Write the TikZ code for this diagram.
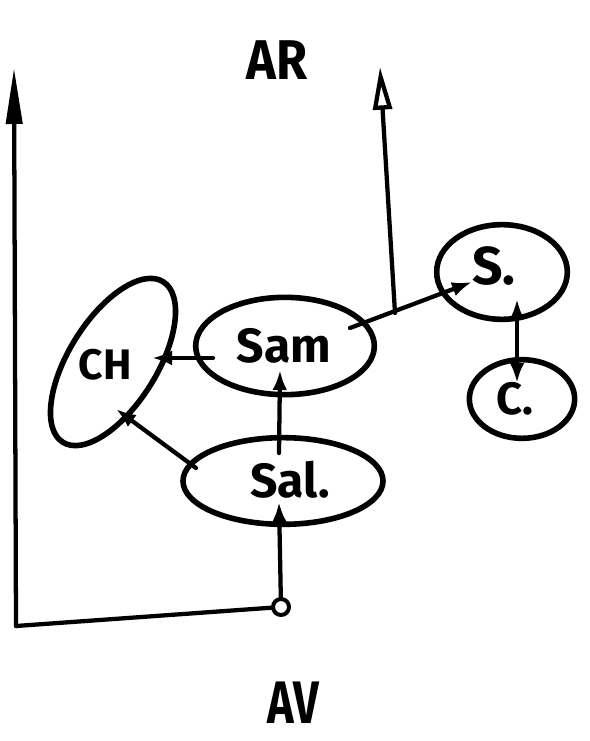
\documentclass[tikz,border=0pt]{standalone}
\usepackage{fontspec}
\setmainfont{Fira Sans}
\usetikzlibrary{shapes.geometric,arrows.meta}
\tikzset{
  blob/.style={draw, ellipse, line width=4.2pt, inner sep=0pt},
  lbl/.style={font=\bfseries\fontsize{#1}{#1}\selectfont, inner sep=0pt},
  link/.style={line width=3.2pt},
  arr/.style={link, -{Latex[length=15pt,width=11pt]}},
  darr/.style={link, {Latex[length=15pt,width=11pt]}-{Latex[length=15pt,width=11pt]}},
  axisL/.style={link, -{Triangle[length=42pt,width=12pt]}},
  axisR/.style={link, -{Triangle[open,length=32pt,width=14pt]}},
}
\begin{document}
\begin{tikzpicture}[x=0.75pt,y=-0.75pt,line cap=round,line join=round]
\useasboundingbox (0,0) rectangle (589,741);
% labels
\node[lbl=42] (AR) at (277,60) {\scalebox{0.9}[1]{AR}};
\node[lbl=45] (AV) at (293,703) {\scalebox{0.75}[1]{AV}};
% ellipses
\node[blob, minimum width=150pt, minimum height=65pt] (Sal) at (283,481) {};
\node[lbl=36] (SalT) at (290,480) {Sal.};
\node[blob, minimum width=134pt, minimum height=73pt] (Sam) at (285,346) {};
\node[lbl=36] (SamT) at (284,346) {Sam};
\node[blob, rotate=58, minimum width=142pt, minimum height=66pt] (CH) at (113,362) {};
\node[lbl=32] (CHT) at (105,365) {CH};
\node[blob, minimum width=98pt, minimum height=71pt] (S) at (502,272) {};
\node[lbl=40] (ST) at (494,266) {S.};
\node[blob, minimum width=79pt, minimum height=59pt] (C) at (522,399) {};
\node[lbl=34] (CT) at (515,399) {C.};
% root circle
\node[draw, circle, line width=3pt, minimum size=12pt, inner sep=0pt] (root) at (281,607) {};
% coordinates
\coordinate (BL) at (16,626);
\coordinate (TL) at (14,68);
\coordinate (TR) at (380,67);
\coordinate (J) at (395,313);
\coordinate (salBot) at (279,502);
\coordinate (salTop) at (279,453);
\coordinate (samBot) at (280,370);
\coordinate (samL) at (213,358);
\coordinate (chR) at (152,358);
\coordinate (salL) at (196,468);
\coordinate (chB) at (116,409);
\coordinate (samR) at (350,328);
\coordinate (sL) at (472,282);
\coordinate (sB) at (517,299);
\coordinate (cT) at (517,383);
% axes
\draw[axisL] (BL) -- (TL);
\draw[link] (BL) -- (root);
\draw[axisR] (J) -- (TR);
% connectors
\draw[arr] (root) -- (salBot);
\draw[arr] (salTop) -- (samBot);
\draw[arr] (samL) -- (chR);
\draw[arr] (salL) -- (chB);
\draw[arr] (samR) -- (sL);
\draw[darr] (sB) -- (cT);
\end{tikzpicture}
\end{document}
